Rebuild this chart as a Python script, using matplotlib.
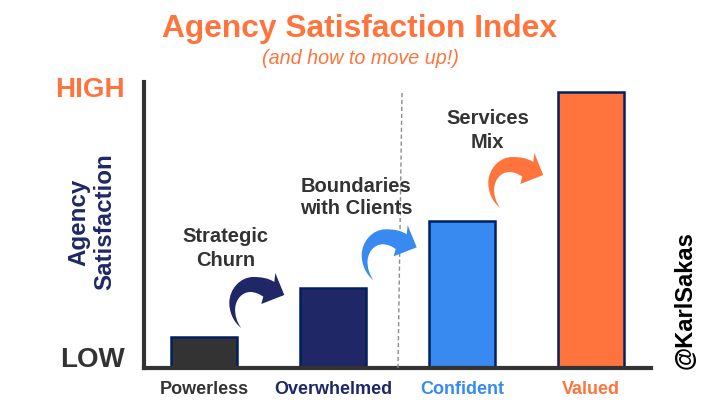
"""Agency satisfaction index bar chart with hand-placed callouts."""

import matplotlib

matplotlib.use("Agg")  # headless: no display required

import matplotlib.pyplot as plt
from matplotlib.lines import Line2D
from matplotlib.patches import PathPatch
from matplotlib.path import Path

plt.rcParams["font.family"] = ["Liberation Sans", "DejaVu Sans"]

WIDTH, HEIGHT = 720, 405

ORANGE = "#FF743D"
NAVY = "#1F2766"
BLUE = "#388AF0"
DARK = "#333333"
EDGE = "#002060"

# Level name, satisfaction (arbitrary units), colour
LEVELS = [
    ("Powerless", 31, DARK),
    ("Overwhelmed", 80, NAVY),
    ("Confident", 147, BLUE),
    ("Valued", 276, ORANGE),
]

# Curved arrow outline, in pixels relative to the arrow tip.
_M, _L, _C = Path.MOVETO, Path.LINETO, Path.CURVE4
ARROW = [
    (-43, 33, _M),
    (-51, 27, _C), (-55, 17, _C), (-55, 8, _C),
    (-55, -6, _C), (-44, -18, _C), (-31, -18, _C),
    (-23, -18, _C), (-16, -17, _C), (-10, -13, _C),
    (-9, -22, _L),
    (0, 0, _L),
    (-23, 9, _L),
    (-21, 1.7, _L),
    (-25, -1, _C), (-29, -3, _C), (-34, -3, _C),
    (-42, -3, _C), (-48, 4, _C), (-49, 12, _C),
    (-50, 20, _C), (-47, 28, _C), (-43, 33, _C),
]


def _fig_xy(x, y):
    """Reference pixel position to figure fraction."""
    return x / WIDTH, 1 - y / HEIGHT


def _label(fig, x, y, text, **kwargs):
    """Bold centred text placed by pixel position."""
    opts = {"ha": "center", "va": "center", "fontweight": "bold", "color": DARK}
    opts.update(kwargs)
    fig.text(*_fig_xy(x, y), text, **opts)


def _arrow(fig, tip_x, tip_y, color):
    """Draw the curved arrow with its tip at a pixel position."""
    verts = [_fig_xy(tip_x + dx, tip_y + dy) for dx, dy, _ in ARROW]
    codes = [code for _, _, code in ARROW]
    fig.add_artist(
        PathPatch(Path(verts, codes), facecolor=color, edgecolor="none",
                  transform=fig.transFigure, zorder=5)
    )


fig = plt.figure(figsize=(WIDTH / 100, HEIGHT / 100), dpi=100)
left, bottom = _fig_xy(144, 368)
ax = fig.add_axes([left, bottom, (651 - 144) / WIDTH, (368 - 82) / HEIGHT])

names = [n for n, _, _ in LEVELS]
values = [v for _, v, _ in LEVELS]
colors = [c for _, _, c in LEVELS]
ax.bar(range(len(LEVELS)), values, width=0.51, color=colors, edgecolor=EDGE, linewidth=1.8)
ax.set_xlim(-0.465, 3.465)
ax.set_ylim(0, 286)

ax.spines[["top", "right"]].set_visible(False)
ax.spines[["left", "bottom"]].set_linewidth(3)
ax.spines[["left", "bottom"]].set_color(DARK)
ax.set_yticks([])
ax.set_xticks(range(len(LEVELS)), names, fontweight="bold", fontsize=13)
ax.tick_params(axis="x", length=0, pad=9)
for tick, color in zip(ax.get_xticklabels(), colors):
    tick.set_color(color)

# Divider between the unhappy and happy levels
x0, y0 = _fig_xy(402, 93)
x1, y1 = _fig_xy(398, 368)
fig.add_artist(Line2D([x0, x1], [y0, y1], color="#8c8c8c", linewidth=1,
                      linestyle=(0, (3, 2)), zorder=1))

_label(fig, 360, 29, "Agency Satisfaction Index", fontsize=22.9, color=ORANGE)
_label(fig, 360, 59, "(and how to move up!)", fontsize=14.2, color=ORANGE,
       fontweight="normal", fontstyle="italic")
_label(fig, 90, 90, "HIGH", fontsize=20, color=ORANGE)
_label(fig, 92, 360, "LOW", fontsize=20)
_label(fig, 79, 222, "Agency", fontsize=17.4, color=NAVY, rotation=90)
_label(fig, 105, 222, "Satisfaction", fontsize=17.4, color=NAVY, rotation=90)
_label(fig, 685, 300, "@KarlSakas", fontsize=17, color="black", rotation=90)

_label(fig, 225.5, 236, "Strategic", fontsize=14.5)
_label(fig, 225.5, 260, "Churn", fontsize=14.5)
_label(fig, 356, 186, "Boundaries", fontsize=14.5)
_label(fig, 356, 209, "with Clients", fontsize=14.5)
_label(fig, 487.5, 118, "Services", fontsize=14.5)
_label(fig, 487.5, 142, "Mix", fontsize=14.5)

_arrow(fig, 284.3, 295, NAVY)
_arrow(fig, 416.7, 247.3, BLUE)
_arrow(fig, 543.3, 175, ORANGE)

fig.savefig("out.png", dpi=100)
plt.close(fig)
